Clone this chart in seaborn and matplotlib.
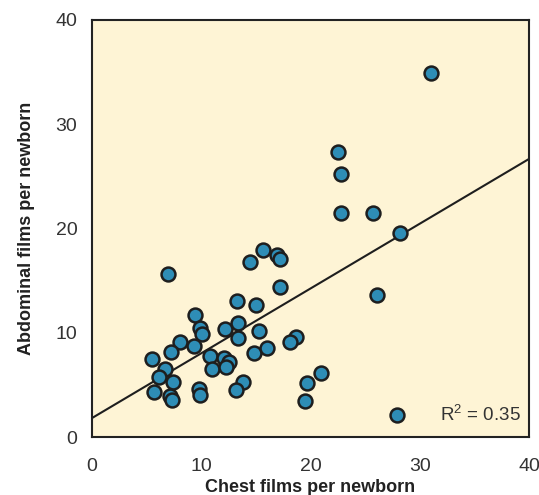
import matplotlib
matplotlib.use("Agg")
import matplotlib.pyplot as plt
import seaborn as sns
import pandas as pd
import numpy as np

chest = [31.0, 22.5, 22.8, 22.8, 25.7, 28.2, 26.1, 27.9, 21.0, 19.65, 19.5, 18.7, 18.1,
         15.65, 14.5, 16.9, 17.2, 17.2, 13.3, 15.0, 9.4, 9.85, 10.1, 12.2, 13.4, 13.4,
         15.3, 8.05, 9.3, 10.8, 12.1, 12.5, 11.0, 12.25, 14.8, 16.0, 13.8, 13.2, 9.8,
         9.9, 7.0, 7.25, 5.5, 6.65, 6.1, 7.45, 5.65, 7.15, 7.3]
abdominal = [34.9, 27.3, 25.2, 21.5, 21.5, 19.6, 13.6, 2.1, 6.1, 5.2, 3.45, 9.55, 9.1,
             17.9, 16.8, 17.5, 17.05, 14.4, 13.0, 12.7, 11.7, 10.5, 9.85, 10.4, 10.9, 9.5,
             10.2, 9.14, 8.7, 7.8, 7.6, 7.15, 6.55, 6.7, 8.05, 8.5, 5.3, 4.5, 4.65,
             4.05, 15.6, 8.2, 7.45, 6.5, 5.8, 5.25, 4.35, 3.9, 3.55]
ticks = [0, 10, 20, 30, 40]
r2_label = "R$^2$ = 0.35"

df = pd.DataFrame({"chest": chest, "abdominal": abdominal})

sns.set_theme(style="white")
plt.rcParams['font.family'] = ['Liberation Sans', 'DejaVu Sans']
plt.rcParams['mathtext.fontset'] = 'custom'
plt.rcParams['mathtext.rm'] = 'Liberation Sans'

fig = plt.figure(figsize=(5.39, 4.95), dpi=100)
ax = fig.add_axes([92/539, 1-437/495, (529-92)/539, (437-20)/495])
ax.set_facecolor("#FEF4D5")
ax.set_xlim(0, 40)
ax.set_ylim(0, 40)

sns.regplot(data=df, x="chest", y="abdominal", ax=ax, ci=None, truncate=False,
            scatter_kws=dict(s=100, color="#2E8DB6", edgecolor="#1E1E1E", linewidths=1.8, alpha=1, zorder=3),
            line_kws=dict(color="#1E1E1E", lw=1.5, zorder=2))

ax.set_xlim(0, 40)
ax.set_ylim(0, 40)
ax.set_xticks(ticks)
ax.set_yticks(ticks)
ax.tick_params(axis="both", length=0, labelsize=14, colors="#333333")
ax.tick_params(axis="x", pad=15)
ax.tick_params(axis="y", pad=10.5)
for s in ax.spines.values():
    s.set_color("#222222")
    s.set_linewidth(1.5)
ax.set_xlabel("Chest films per newborn", fontsize=13, fontweight="bold", color="#222222", labelpad=3)
ax.set_ylabel("Abdominal films per newborn", fontsize=13, fontweight="bold", color="#222222", labelpad=15)
ax.text(0.982, 0.053, r2_label, transform=ax.transAxes, ha="right", va="center",
        fontsize=13.5, color="#333333")

fig.savefig("out.png", dpi=100)
